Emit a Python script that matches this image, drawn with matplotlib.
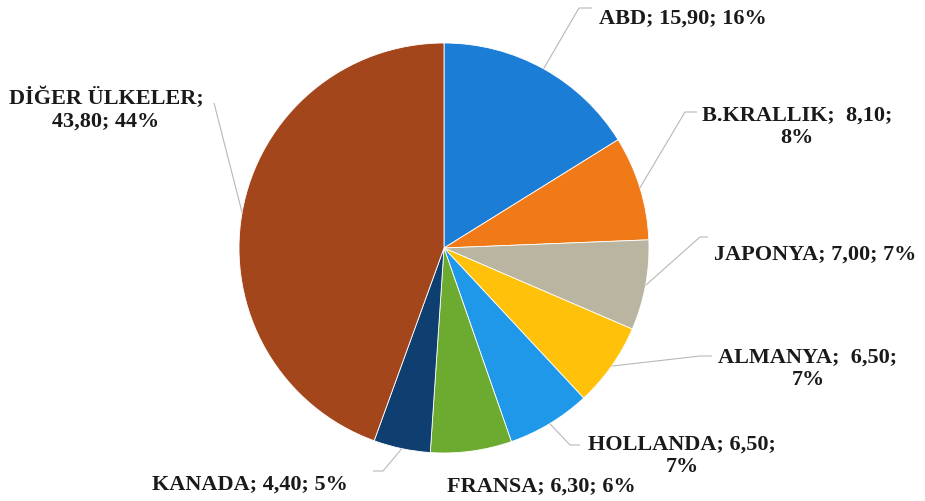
import numpy as np
import matplotlib
matplotlib.use("Agg")
import matplotlib.pyplot as plt

countries = ["ABD", "B.KRALLIK", "JAPONYA", "ALMANYA", "HOLLANDA", "FRANSA", "KANADA", "DİĞER ÜLKELER"]
values = [15.90, 8.10, 7.00, 6.50, 6.50, 6.30, 4.40, 43.80]
percents = [16, 8, 7, 7, 7, 6, 5, 44]
label_texts = [
    "ABD; 15,90; 16%",
    "B.KRALLIK;  8,10;\n8%",
    "JAPONYA; 7,00; 7%",
    "ALMANYA;  6,50;\n7%",
    "HOLLANDA; 6,50;\n7%",
    "FRANSA; 6,30; 6%",
    "KANADA; 4,40; 5%",
    "DİĞER ÜLKELER;\n43,80; 44%",
]
colors = ["#1b7dd5", "#f07a18", "#b9b5a0", "#ffc10a", "#2098ea", "#6cab2f", "#0e3f70", "#a4461b"]

W, H = 925, 502
fig = plt.figure(figsize=(W / 100, H / 100), dpi=100)
ax = fig.add_axes([0, 0, 1, 1])

def Y(y):
    return H - y

cx, cy, r = 444, Y(249), 205
wedges, _ = ax.pie(values, colors=colors, startangle=90, counterclock=False,
                   center=(cx, cy), radius=r, frame=True,
                   wedgeprops=dict(edgecolor="white", linewidth=0.6))
ax.set_xlim(0, W)
ax.set_ylim(0, H)
ax.set_aspect("equal")
ax.axis("off")

# label layout: (text x, text y, ha, elbow point, tick end)
layout = [
    (683, 19, "center", (579, 9), (592, 9)),
    (797, 127, "center", (685, 113), (697, 113)),
    (815, 255, "center", (700, 238), (708, 238)),
    (808, 369, "center", (700, 357), (712, 357)),
    (682, 456, "center", (570, 446), (580, 446)),
    (541, 487, "center", None, None),
    (250, 485, "center", (383, 472), (373, 472)),
    (106, 110, "center", (214, 104), None),
]

for w, txt, (tx, ty, ha, elbow, tick) in zip(wedges, label_texts, layout):
    mid = np.deg2rad((w.theta1 + w.theta2) / 2)
    px, py = cx + r * np.cos(mid), cy + r * np.sin(mid)
    if elbow is not None:
        xs = [px, elbow[0]]
        ys = [py, Y(elbow[1])]
        if tick is not None:
            xs.append(tick[0])
            ys.append(Y(tick[1]))
        ax.plot(xs, ys, color="#b8b8b8", lw=0.8, solid_capstyle="butt")
    ax.text(tx, Y(ty), txt, ha=ha, va="center", fontsize=16, fontweight="bold",
            family=["Liberation Serif", "DejaVu Serif"], color="#1a1a1a",
            linespacing=1.15)

fig.savefig("out.png", dpi=100)
